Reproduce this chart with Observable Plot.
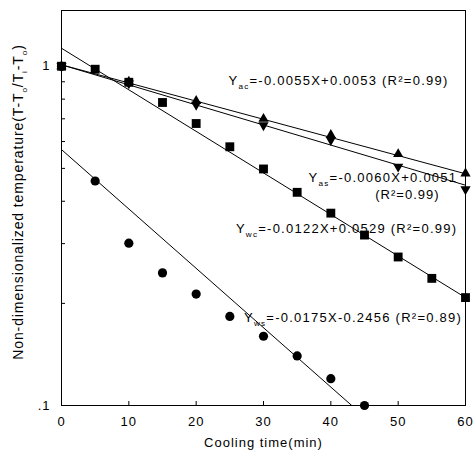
<!DOCTYPE html>
<html><head><meta charset="utf-8">
<script src="https://cdn.jsdelivr.net/npm/d3@7"></script>
<script src="https://cdn.jsdelivr.net/npm/@observablehq/plot@0.6"></script>
<style>body{margin:0;background:#fff}</style>
</head><body><div id="chart"></div>
<script>
// Measured data (cooling time in min, non-dimensionalized temperature)
const wsTime = [0, 5, 10, 15, 20, 25, 30, 35, 40, 45];
const wsVal  = [1.0, 0.459, 0.301, 0.246, 0.213, 0.183, 0.160, 0.140, 0.120, 0.100];
const wcTime = [0, 5, 10, 15, 20, 25, 30, 35, 40, 45, 50, 55, 60];
const wcVal  = [1.0, 0.98, 0.897, 0.782, 0.678, 0.579, 0.498, 0.425, 0.369, 0.318, 0.274, 0.237, 0.208];
const acTime = [0, 10, 20, 30, 40, 50, 60];
const acVal  = [1.0, 0.90, 0.79, 0.70, 0.627, 0.551, 0.483];
const asTime = [0, 10, 20, 30, 40, 50, 60];
const asVal  = [1.0, 0.89, 0.77, 0.67, 0.606, 0.506, 0.434];

// Regression line end points
const fitWcX = [0, 60],   fitWcY = [1.13, 0.208];
const fitWsX = [0, 43.1], fitWsY = [0.568, 0.1];
const fitAcX = [0, 60],   fitAcY = [1.01, 0.482];
const fitAsX = [0, 60],   fitAsY = [1.01, 0.446];

const xTicks = [0, 10, 20, 30, 40, 50, 60];
const yTicks = [0.1, 0.2, 0.3, 0.4, 0.5, 0.6, 0.7, 0.8, 0.9, 1];
const yTickLabels = {"1": "1", "0.1": ".1"};

const eqAc = "Y_{ac}=-0.0055X+0.0053 (R²=0.99)";
const eqAs1 = "Y_{as}=-0.0060X+0.0051";
const eqAs2 = "(R²=0.99)";
const eqWc = "Y_{wc}=-0.0122X+0.0529 (R²=0.99)";
const eqWs = "Y_{ws}=-0.0175X-0.2456 (R²=0.89)";
const xLabel = "Cooling time(min)";
const yLabel = "Non-dimensionalized temperature(T-T_{o}/T_{i}-T_{o})";

const rows = (s, xs, ys) => xs.map((x, i) => ({series: s, x, y: ys[i]}));
const fits = [
  ...rows("wc", fitWcX, fitWcY), ...rows("ws", fitWsX, fitWsY),
  ...rows("ac", fitAcX, fitAcY), ...rows("as", fitAsX, fitAsY)
];

const downTriangle = {
  draw(context, size) {
    const s3 = Math.sqrt(3);
    const y = Math.sqrt(size / (s3 * 3));
    context.moveTo(0, y * 2);
    context.lineTo(-s3 * y, -y);
    context.lineTo(s3 * y, -y);
    context.closePath();
  }
};

const eqOpts = {text: d => d, textAnchor: "start", lineAnchor: "middle", fontSize: 13, fill: "#000"};

const chart = Plot.plot({
  width: 476, height: 462,
  marginLeft: 61, marginRight: 11, marginTop: 10, marginBottom: 57,
  style: {fontFamily: "'Liberation Sans', Arial, sans-serif", fontSize: "12px", background: "#fff", color: "#000"},
  x: {domain: [0, 60]},
  y: {type: "log", domain: [0.1, 1.46]},
  marks: [
    Plot.frame({stroke: "#000", strokeWidth: 1}),
    Plot.axisX({ticks: xTicks, tickSize: -4, tickPadding: 15, label: null, fontSize: 13}),
    Plot.axisY({ticks: yTicks, tickSize: -4, tickPadding: 15, label: null, fontSize: 13,
      tickFormat: d => yTickLabels[String(d)] ?? ""}),
    Plot.line(fits, {x: "x", y: "y", z: "series", stroke: "#000", strokeWidth: 1}),
    Plot.dot(rows("wc", wcTime, wcVal), {x: "x", y: "y", symbol: "square", r: 5, fill: "#000"}),
    Plot.dot(rows("ac", acTime, acVal), {x: "x", y: "y", symbol: "triangle", r: 3.8, fill: "#000"}),
    Plot.dot(rows("as", asTime, asVal), {x: "x", y: "y", symbol: downTriangle, r: 3.8, fill: "#000"}),
    Plot.dot(rows("ws", wsTime, wsVal), {x: "x", y: "y", symbol: "circle", r: 4.6, fill: "#000"}),
    Plot.text([eqAc], {x: 24.8, y: 0.908, ...eqOpts}),
    Plot.text([eqAs1], {x: 36.7, y: 0.470, ...eqOpts}),
    Plot.text([eqAs2], {x: 46.6, y: 0.419, ...eqOpts}),
    Plot.text([eqWc], {x: 25.9, y: 0.332, ...eqOpts}),
    Plot.text([eqWs], {x: 27.1, y: 0.1817, ...eqOpts}),
    Plot.text([xLabel], {frameAnchor: "bottom", dy: 37, text: d => d, textAnchor: "middle", lineAnchor: "middle", fontSize: 13, fill: "#000"}),
    Plot.text([yLabel], {frameAnchor: "left", dx: -43, dy: -6, rotate: -90, text: d => d, textAnchor: "middle", lineAnchor: "middle", fontSize: 14, fill: "#000"})
  ]
});

const svg = d3.select(chart);
// wide letter spacing like the scanned original
svg.selectAll("text").style("letter-spacing", "1px");

// render "_{...}" as subscripts
svg.selectAll("text").each(function() {
  const el = this;
  const txt = el.textContent;
  if (!txt.includes("_{")) return;
  const fs = parseFloat(el.getAttribute("font-size")) || 13;
  el.style.letterSpacing = txt.startsWith("Non-") ? "0.9px" : "1.25px";
  while (el.firstChild) el.removeChild(el.firstChild);
  const parts = txt.split(/(_\{[^}]*\})/);
  let shifted = false;
  for (const p of parts) {
    if (!p) continue;
    const t = document.createElementNS("http://www.w3.org/2000/svg", "tspan");
    if (p.startsWith("_{")) {
      t.textContent = p.slice(2, -1);
      t.setAttribute("font-size", (fs * 0.62).toFixed(1));
      t.setAttribute("dy", (fs * 0.3).toFixed(1));
      shifted = true;
    } else {
      t.textContent = p;
      if (shifted) { t.setAttribute("dy", (-fs * 0.3).toFixed(1)); shifted = false; }
    }
    el.appendChild(t);
  }
});

document.getElementById("chart").appendChild(chart);
</script>
</body></html>
